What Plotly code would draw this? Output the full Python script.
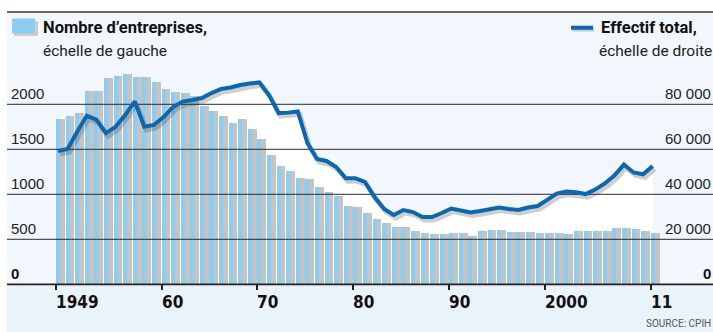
import plotly.graph_objects as go

# ---------------- data ----------------
years = list(range(1949, 2012))
entreprises = [1833, 1867, 1900, 2144, 2144, 2289, 2311, 2333, 2300, 2300,
               2248, 2165, 2141, 2126, 2093, 1985, 1926, 1870, 1796, 1837,
               1726, 1615, 1437, 1315, 1259, 1185, 1170, 1085, 1026, 981,
               870, 859, 796, 726, 678, 633, 633, 592, 574, 559,
               559, 574, 574, 537, 592, 603, 603, 585, 585, 585,
               574, 574, 574, 559, 592, 592, 592, 592, 629, 629,
               615, 592, 574]
effectif = [59200, 60100, 67800, 74900, 73200, 67200, 70000, 75200, 81300, 70000,
            70800, 74300, 78800, 81200, 81900, 82800, 85000, 86800, 87500, 88600,
            89200, 89700, 84100, 76100, 76300, 76800, 62800, 55700, 54800, 52100,
            47100, 47100, 45500, 38800, 33500, 30800, 33000, 32100, 29900, 29900,
            31700, 33700, 32800, 31900, 32600, 33500, 34100, 33500, 33000, 34100,
            34800, 37500, 40300, 41200, 40900, 40100, 42100, 44800, 48300, 53200,
            49700, 48900, 52600]
x_tick_vals = [1949, 1960, 1970, 1980, 1990, 2000, 2011]
x_tick_text = ["1949", "60", "70", "80", "90", "2000", "11"]
left_tick_vals = [500, 1000, 1500, 2000]
left_tick_text = ["500", "1000", "1500", "2000"]
right_tick_vals = [20000, 40000, 60000, 80000]
right_tick_text = ["20 000", "40 000", "60 000", "80 000"]

# ---------------- geometry (pixels) ----------------
W, H = 713, 332
PPY = 9.592            # pixels per year
PX_LEFT, PX_RIGHT = 7, 713
PX_1949 = 56.0
PX_TOP, PX_ZERO = 12.0, 284.3
PX_PER_UNIT = 45.0 / 500.0
RATIO = 40             # right scale / left scale

def xp(px):
    return px / W

def yp(py):
    return 1 - py / H

def xrange_shift(shift):
    r0 = 1949 - (PX_1949 - PX_LEFT + shift) / PPY
    return [r0, r0 + (PX_RIGHT - PX_LEFT) / PPY]

bar_top = (PX_ZERO - PX_TOP) / PX_PER_UNIT
def yrange(scale=1.0, shift_px=0.0):
    d = shift_px / PX_PER_UNIT * scale
    return [d, bar_top * scale + d]

dom_x = [xp(PX_LEFT), 1.0]
dom_y = [yp(PX_ZERO), yp(PX_TOP)]

TXT = "Roboto, Lato, sans-serif"
REG = "Liberation Sans, Arial, sans-serif"
XLAB = "DejaVu Sans Condensed, DejaVu Sans, sans-serif"
BLUE_BAR = "#8ccdf3"
BLUE_LINE = "#0d67ae"
GRID = "#2b2b2b"

fig = go.Figure()

# white glow under the line (main subplot, drawn first)
fig.add_trace(go.Scatter(x=years, y=effectif, xaxis="x", yaxis="y",
                         mode="lines", line=dict(width=0, color="white"),
                         fill="tozeroy", fillcolor="rgba(255,255,255,0.95)",
                         hoverinfo="skip", showlegend=False))

# bar shadows + bars
fig.add_trace(go.Bar(x=years, y=entreprises, xaxis="x2", yaxis="y2",
                     width=0.5, offset=0.42, marker=dict(color="#c4c4c4", line=dict(width=0)),
                     showlegend=False, hoverinfo="skip"))
fig.add_trace(go.Bar(x=years, y=entreprises, xaxis="x2", yaxis="y2",
                     width=0.42, offset=0.0, marker=dict(color=BLUE_BAR, line=dict(width=0)),
                     showlegend=False))
# gridlines drawn above bars
gx, gy = [], []
xr2 = xrange_shift(0)
for v in left_tick_vals:
    gx += [xr2[0], xr2[1], None]
    gy += [v, v, None]
fig.add_trace(go.Scatter(x=gx, y=gy, xaxis="x2", yaxis="y2", mode="lines",
                         line=dict(color=GRID, width=1), hoverinfo="skip",
                         showlegend=False))

# line shadow
fig.add_trace(go.Scatter(x=years, y=effectif, xaxis="x3", yaxis="y3", mode="lines",
                         line=dict(color="rgba(60,60,60,0.25)", width=5),
                         hoverinfo="skip", showlegend=False))
# line
fig.add_trace(go.Scatter(x=years, y=effectif, xaxis="x4", yaxis="y4", mode="lines",
                         line=dict(color=BLUE_LINE, width=4),
                         showlegend=False))

hidden = dict(showgrid=False, zeroline=False, showticklabels=False, ticks="",
              showline=False, fixedrange=True)
fig.update_layout(
    width=W, height=H,
    margin=dict(l=0, r=0, t=0, b=0),
    paper_bgcolor="white", plot_bgcolor="rgba(0,0,0,0)",
    barmode="overlay", bargap=0,
    xaxis=dict(domain=dom_x, range=xrange_shift(2), anchor="y", **hidden),
    yaxis=dict(domain=dom_y, range=yrange(RATIO), anchor="x", **hidden),
    xaxis2=dict(domain=dom_x, range=xrange_shift(0), overlaying="x", anchor="y2",
                side="bottom", showgrid=False, zeroline=False, showline=False,
                showticklabels=False, ticks="outside", ticklen=5, tickwidth=1.5,
                tickcolor="#222", tickvals=x_tick_vals),
    yaxis2=dict(domain=dom_y, range=yrange(1), overlaying="y", anchor="x2", **hidden),
    xaxis3=dict(domain=dom_x, range=xrange_shift(4), overlaying="x", anchor="y3", **hidden),
    yaxis3=dict(domain=dom_y, range=yrange(RATIO, 3), overlaying="y", anchor="x3", **hidden),
    xaxis4=dict(domain=dom_x, range=xrange_shift(2), overlaying="x", anchor="y4", **hidden),
    yaxis4=dict(domain=dom_y, range=yrange(RATIO), overlaying="y", anchor="x4", **hidden),
)

shapes = [
    # panel backgrounds
    dict(type="rect", xref="paper", yref="paper", x0=xp(PX_LEFT), x1=1, y0=yp(PX_ZERO), y1=yp(PX_TOP),
         fillcolor="#f1f7fc", line=dict(width=0), layer="below"),
    dict(type="rect", xref="paper", yref="paper", x0=xp(PX_LEFT), x1=1, y0=0, y1=yp(PX_ZERO),
         fillcolor="#e9f3fa", line=dict(width=0), layer="below"),
    # top rule
    dict(type="line", xref="paper", yref="paper", x0=xp(PX_LEFT), x1=1, y0=yp(PX_TOP), y1=yp(PX_TOP),
         line=dict(color="#333", width=1.5), layer="above"),
    # zero axis line
    dict(type="line", xref="paper", yref="paper", x0=xp(PX_LEFT), x1=1, y0=yp(PX_ZERO), y1=yp(PX_ZERO),
         line=dict(color="#222", width=1.8), layer="above"),
    # legend: bar swatch with shadow
    dict(type="rect", xref="paper", yref="paper", x0=xp(14), x1=xp(38), y0=yp(36), y1=yp(21),
         fillcolor="#cdcdcd", line=dict(width=0), layer="above"),
    dict(type="rect", xref="paper", yref="paper", x0=xp(12), x1=xp(35), y0=yp(33.5), y1=yp(18.5),
         fillcolor=BLUE_BAR, line=dict(width=0), layer="above"),
    # legend: line swatch with shadow
    dict(type="line", xref="paper", yref="paper", x0=xp(572), x1=xp(594), y0=yp(29.5), y1=yp(29.5),
         line=dict(color="rgba(60,60,60,0.25)", width=4), layer="above"),
    dict(type="line", xref="paper", yref="paper", x0=xp(571), x1=xp(593), y0=yp(27.7), y1=yp(27.7),
         line=dict(color=BLUE_LINE, width=4), layer="above"),
]
fig.update_layout(shapes=shapes)

ann = []
# legend texts
ann.append(dict(text="<b>Nombre d’entreprises,</b>", xref="paper", yref="paper",
                x=xp(41), y=yp(16), xanchor="left", yanchor="top", showarrow=False,
                font=dict(family=TXT, size=16.5, color="#111")))
ann.append(dict(text="échelle de gauche", xref="paper", yref="paper",
                x=xp(41), y=yp(40), xanchor="left", yanchor="top", showarrow=False,
                font=dict(family=TXT, size=15.5, color="#222")))
ann.append(dict(text="<b>Effectif total,</b>", xref="paper", yref="paper",
                x=xp(599), y=yp(16), xanchor="left", yanchor="top", showarrow=False,
                font=dict(family=TXT, size=16.5, color="#111")))
ann.append(dict(text="échelle de droite", xref="paper", yref="paper",
                x=xp(714), y=yp(40), xanchor="right", yanchor="top", showarrow=False,
                font=dict(family=TXT, size=15.5, color="#222")))
# left tick labels
for v, t in zip(left_tick_vals, left_tick_text):
    ann.append(dict(text=t, xref="paper", yref="y2", x=xp(9), y=v, xanchor="left",
                    yanchor="bottom", showarrow=False, yshift=0,
                    font=dict(family=REG, size=15, color="#222")))
ann.append(dict(text="<b>0</b>", xref="paper", yref="y2", x=xp(9), y=0, xanchor="left",
                yanchor="bottom", showarrow=False,
                font=dict(family=REG, size=15, color="#111")))
# right tick labels
for v, t in zip(right_tick_vals, right_tick_text):
    ann.append(dict(text=t, xref="paper", yref="y", x=xp(713), y=v, xanchor="right",
                    yanchor="bottom", showarrow=False,
                    font=dict(family=REG, size=15, color="#222")))
ann.append(dict(text="<b>0</b>", xref="paper", yref="y", x=xp(713), y=0, xanchor="right",
                yanchor="bottom", showarrow=False,
                font=dict(family=REG, size=15, color="#111")))
# x tick labels
for v, t in zip(x_tick_vals, x_tick_text):
    ann.append(dict(text="<b>" + t + "</b>", xref="x2", yref="paper", x=v, y=yp(290),
                    xanchor="left", yanchor="top", showarrow=False, xshift=-2,
                    font=dict(family=XLAB, size=17, color="#111")))
# source
ann.append(dict(text="SOURCE: CPIH", xref="paper", yref="paper", x=xp(713), y=yp(331),
                xanchor="right", yanchor="bottom", showarrow=False,
                font=dict(family=TXT, size=10, color="#555")))
fig.update_layout(annotations=ann)

fig.write_html("out.html")
